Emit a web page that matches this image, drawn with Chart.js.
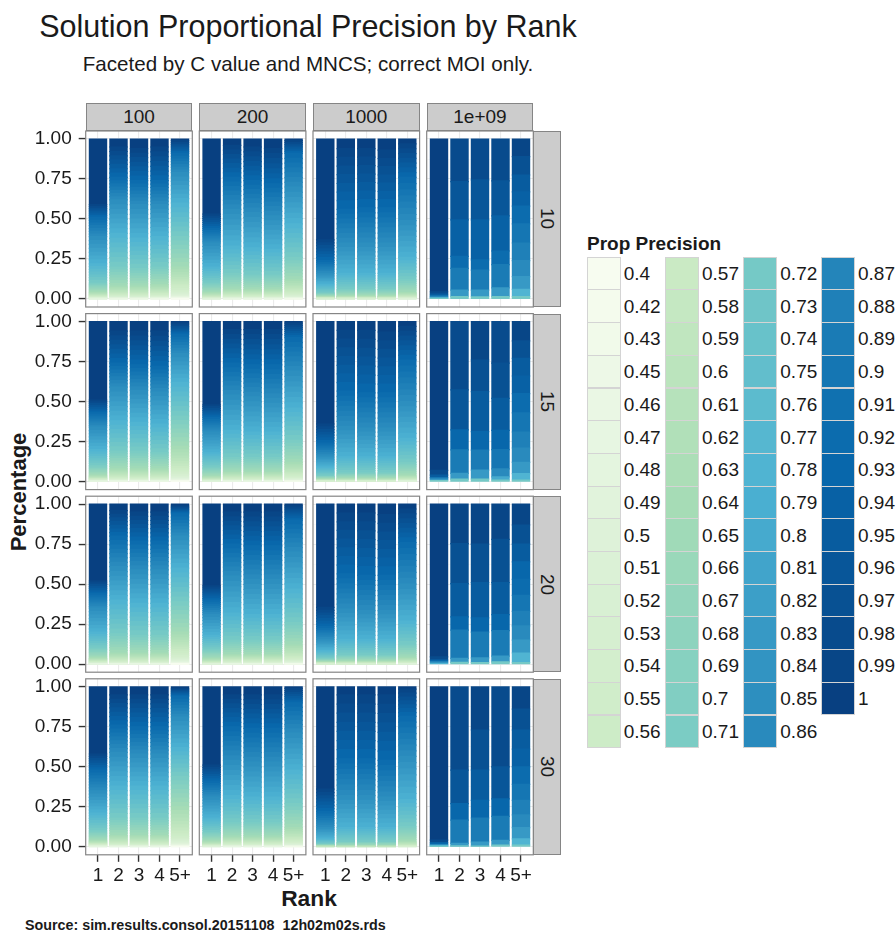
<!DOCTYPE html>
<html>
<head>
<meta charset="utf-8">
<title>Solution Proportional Precision by Rank</title>
<script src="https://cdn.jsdelivr.net/npm/chart.js@4.4.1/dist/chart.umd.min.js"></script>
<style>
  html, body { margin: 0; padding: 0; background: #ffffff; }
  body { position: relative; width: 896px; height: 933px; overflow: hidden;
         font-family: "Liberation Sans", Arial, sans-serif; color: #1a1a1a; }
  .txt { position: absolute; white-space: pre; line-height: 1; }
  canvas.panel { position: absolute; left: 0; top: 0; }
  .strip { position: absolute; box-sizing: border-box; background: #cccccc; border: 1px solid #858585;
           display: flex; align-items: center; justify-content: center; font-size: 19px; color: #1a1a1a; }
  .strip.side span { writing-mode: vertical-rl; }
  .key { position: absolute; box-sizing: border-box; border: 1px solid #d4d4d4; }
  .klab { position: absolute; font-size: 19px; line-height: 1; white-space: pre; color: #1a1a1a; }
</style>
</head>
<body>
<div class="txt" id="title" style="font-size:30.5px;">Solution Proportional Precision by Rank</div>
<div class="txt" id="subtitle" style="font-size:20.6px;">Faceted by C value and MNCS; correct MOI only.</div>
<div class="txt" id="ytitle" style="font-size:22px;font-weight:bold;">Percentage</div>
<div class="txt" id="xtitle" style="font-size:22.8px;font-weight:bold;">Rank</div>
<div class="txt" id="legtitle" style="font-size:19px;font-weight:bold;">Prop Precision</div>
<div class="txt" id="source" style="font-size:14.3px;font-weight:bold;">Source: sim.results.consol.20151108  12h02m02s.rds</div>
<script>
// ---- categories ----
const cValues = ['100', '200', '1000', '1e+09'];
const mncsValues = ['10', '15', '20', '30'];
const ranks = ['1', '2', '3', '4', '5+'];
const precisionLevels = [0.4, 0.42, 0.43, 0.45, 0.46, 0.47, 0.48, 0.49, 0.5, 0.51, 0.52, 0.53, 0.54, 0.55, 0.56,
  0.57, 0.58, 0.59, 0.6, 0.61, 0.62, 0.63, 0.64, 0.65, 0.66, 0.67, 0.68, 0.69, 0.7, 0.71,
  0.72, 0.73, 0.74, 0.75, 0.76, 0.77, 0.78, 0.79, 0.8, 0.81, 0.82, 0.83, 0.84, 0.85, 0.86,
  0.87, 0.88, 0.89, 0.9, 0.91, 0.92, 0.93, 0.94, 0.95, 0.96, 0.97, 0.98, 0.99, 1];
const yMajorTicks = [0, 0.25, 0.5, 0.75, 1];
const yMinorTicks = [0.125, 0.375, 0.625, 0.875];

// ---- share (%) of solutions at each precision level, one row per rank ----
const c100_m10 = [
  [0,0,0,0,0,0,0.1,0.1,0.1,0.1,0.2,0.2,0.2,0.2,0.3, 0.3,0.3,0.3,0.4,0.4,0.4,0.4,0.5, 0.7,0.8,0.8,0.8,0.8,0.8,0.8, 1.6,1.7,1.7,1.8,1.7,1.7,1.8, 2.4,2.4,2.4,2.5,2.4,2.4,2.5, 1.6,1.7,1.7,1.8,1.7,1.7,1.8, 1.1,1.1,1.2,1.1,1.2,1.1,1.2, 41],
  [0,0,0,0,0.1,0.1,0.1,0.1,0.2,0.2,0.3,0.3,0.3,0.4,0.4, 0.5,0.6,0.6,0.7,0.7,0.7,0.8,0.9, 1.6,1.7,1.7,1.8,1.7,1.7,1.8, 2.9,3.0,3.0,3.0,3.0,3.0,3.1, 2.9,3.0,3.0,3.0,3.0,3.0,3.1, 1.9,2.0,2.0,2.0,2.0,2.0,2.1, 2.7,2.7,2.7,2.7,2.7,2.7,2.8, 5],
  [0,0,0,0,0.1,0.1,0.1,0.1,0.2,0.2,0.3,0.3,0.3,0.4,0.4, 0.5,0.6,0.6,0.7,0.7,0.7,0.8,0.9, 1.5,1.6,1.6,1.6,1.5,1.6,1.6, 2.7,2.7,2.7,2.7,2.7,2.7,2.8, 2.9,3.0,3.0,3.0,3.0,3.0,3.1, 2.1,2.1,2.2,2.1,2.2,2.1,2.2, 2.8,2.9,2.9,2.8,2.9,2.8,2.9, 6],
  [0,0,0,0.1,0.1,0.1,0.1,0.2,0.2,0.3,0.3,0.3,0.4,0.4,0.5, 0.6,0.6,0.7,0.7,0.8,0.8,0.9,0.9, 1.5,1.6,1.6,1.6,1.5,1.6,1.6, 2.7,2.7,2.7,2.7,2.7,2.7,2.8, 2.8,2.9,2.9,2.8,2.9,2.8,2.9, 2.1,2.1,2.2,2.1,2.2,2.1,2.2, 2.9,3.0,3.0,3.0,3.0,3.0,3.1, 5],
  [0.1,0.1,0.1,0.2,0.2,0.3,0.3,0.4,0.5,0.6,0.7,0.8,1.0,1.2,1.5, 1.2,1.3,1.4,1.5,1.5,1.6,1.7,1.8, 2.7,2.7,2.7,2.7,2.7,2.7,2.8, 2.9,3.0,3.0,3.0,3.0,3.0,3.1, 2.7,2.7,2.7,2.7,2.7,2.7,2.8, 1.6,1.7,1.7,1.8,1.7,1.7,1.8, 1.1,1.1,1.2,1.1,1.2,1.1,1.2, 1]
];
const c100_m15 = [
  [0,0,0,0,0,0,0.1,0.1,0.1,0.1,0.2,0.2,0.2,0.2,0.3, 0.2,0.2,0.3,0.3,0.3,0.4,0.4,0.4, 0.8,0.8,0.9,0.8,0.9,0.9,0.9, 1.4,1.4,1.4,1.5,1.4,1.4,1.5, 1.9,2.0,2.0,2.0,2.0,2.0,2.1, 1.2,1.3,1.3,1.3,1.3,1.3,1.3, 1.1,1.1,1.2,1.1,1.2,1.1,1.2, 49],
  [0,0,0,0,0.1,0.1,0.1,0.1,0.2,0.2,0.3,0.3,0.3,0.4,0.4, 0.5,0.6,0.6,0.7,0.7,0.7,0.8,0.9, 1.5,1.6,1.6,1.6,1.5,1.6,1.6, 2.7,2.7,2.7,2.7,2.7,2.7,2.8, 2.9,3.0,3.0,3.0,3.0,3.0,3.1, 2.1,2.1,2.2,2.1,2.2,2.1,2.2, 2.8,2.9,2.9,2.8,2.9,2.8,2.9, 6],
  [0,0,0,0,0.1,0.1,0.1,0.1,0.2,0.2,0.3,0.3,0.3,0.4,0.4, 0.5,0.6,0.6,0.7,0.7,0.7,0.8,0.9, 1.5,1.6,1.6,1.6,1.5,1.6,1.6, 2.5,2.6,2.6,2.6,2.5,2.6,2.6, 2.8,2.9,2.9,2.8,2.9,2.8,2.9, 2.2,2.3,2.3,2.3,2.3,2.3,2.3, 2.9,3.0,3.0,3.0,3.0,3.0,3.1, 6],
  [0,0,0,0,0.1,0.1,0.1,0.1,0.2,0.2,0.3,0.3,0.3,0.4,0.4, 0.5,0.6,0.6,0.7,0.7,0.7,0.8,0.9, 1.4,1.4,1.4,1.5,1.4,1.4,1.5, 2.5,2.6,2.6,2.6,2.5,2.6,2.6, 2.8,2.9,2.9,2.8,2.9,2.8,2.9, 2.2,2.3,2.3,2.3,2.3,2.3,2.3, 3.1,3.1,3.2,3.1,3.2,3.1,3.2, 6],
  [0.1,0.1,0.1,0.2,0.2,0.3,0.3,0.4,0.5,0.6,0.7,0.8,1.0,1.2,1.5, 1.4,1.5,1.6,1.7,1.8,1.9,2.0,2.1, 2.7,2.7,2.7,2.7,2.7,2.7,2.8, 2.9,3.0,3.0,3.0,3.0,3.0,3.1, 2.5,2.6,2.6,2.6,2.5,2.6,2.6, 1.6,1.7,1.7,1.8,1.7,1.7,1.8, 0.9,1.0,1.0,1.0,1.0,1.0,1.1, 1]
];
const c100_m20 = [
  [0,0,0,0,0,0,0.1,0.1,0.1,0.1,0.2,0.2,0.2,0.2,0.3, 0.2,0.2,0.3,0.3,0.3,0.4,0.4,0.4, 0.8,0.8,0.9,0.8,0.9,0.9,0.9, 1.4,1.4,1.4,1.5,1.4,1.4,1.5, 2.1,2.1,2.2,2.1,2.2,2.1,2.2, 1.2,1.3,1.3,1.3,1.3,1.3,1.3, 1.1,1.1,1.2,1.1,1.2,1.1,1.2, 48],
  [0,0,0,0,0,0.1,0.1,0.1,0.1,0.2,0.2,0.2,0.3,0.3,0.4, 0.5,0.5,0.6,0.6,0.6,0.7,0.7,0.8, 1.6,1.7,1.7,1.8,1.7,1.7,1.8, 2.9,3.0,3.0,3.0,3.0,3.0,3.1, 2.9,3.0,3.0,3.0,3.0,3.0,3.1, 2.7,2.7,2.7,2.7,2.7,2.7,2.8, 2.2,2.3,2.3,2.3,2.3,2.3,2.3, 4],
  [0,0,0,0,0,0.1,0.1,0.1,0.1,0.2,0.2,0.2,0.3,0.3,0.4, 0.5,0.5,0.6,0.6,0.6,0.7,0.7,0.8, 1.5,1.6,1.6,1.6,1.5,1.6,1.6, 2.8,2.9,2.9,2.8,2.9,2.8,2.9, 2.9,3.0,3.0,3.0,3.0,3.0,3.1, 2.5,2.6,2.6,2.6,2.5,2.6,2.6, 2.5,2.6,2.6,2.6,2.5,2.6,2.6, 5],
  [0,0,0,0,0,0.1,0.1,0.1,0.1,0.2,0.2,0.2,0.3,0.3,0.4, 0.5,0.5,0.6,0.6,0.6,0.7,0.7,0.8, 1.5,1.6,1.6,1.6,1.5,1.6,1.6, 2.8,2.9,2.9,2.8,2.9,2.8,2.9, 2.9,3.0,3.0,3.0,3.0,3.0,3.1, 2.5,2.6,2.6,2.6,2.5,2.6,2.6, 2.5,2.6,2.6,2.6,2.5,2.6,2.6, 5],
  [0.1,0.1,0.1,0.2,0.2,0.3,0.3,0.4,0.5,0.6,0.7,0.8,1.0,1.2,1.5, 1.2,1.3,1.4,1.5,1.5,1.6,1.7,1.8, 2.7,2.7,2.7,2.7,2.7,2.7,2.8, 2.9,3.0,3.0,3.0,3.0,3.0,3.1, 2.8,2.9,2.9,2.8,2.9,2.8,2.9, 1.9,2.0,2.0,2.0,2.0,2.0,2.1, 0.7,0.7,0.7,0.7,0.7,0.7,0.8, 1]
];
const c100_m30 = [
  [0,0,0,0,0,0,0.1,0.1,0.1,0.1,0.2,0.2,0.2,0.2,0.3, 0.2,0.2,0.3,0.3,0.3,0.4,0.4,0.4, 0.8,0.8,0.9,0.8,0.9,0.9,0.9, 1.5,1.6,1.6,1.6,1.5,1.6,1.6, 1.9,2.0,2.0,2.0,2.0,2.0,2.1, 1.8,1.9,1.8,1.9,1.9,1.8,1.9, 1.4,1.4,1.4,1.5,1.4,1.4,1.5, 42],
  [0,0,0,0,0,0.1,0.1,0.1,0.1,0.2,0.2,0.2,0.3,0.3,0.4, 0.5,0.5,0.6,0.6,0.6,0.7,0.7,0.8, 1.5,1.6,1.6,1.6,1.5,1.6,1.6, 2.8,2.9,2.9,2.8,2.9,2.8,2.9, 2.9,3.0,3.0,3.0,3.0,3.0,3.1, 2.4,2.4,2.4,2.5,2.4,2.4,2.5, 2.7,2.7,2.7,2.7,2.7,2.7,2.8, 5],
  [0,0,0,0,0,0.1,0.1,0.1,0.1,0.2,0.2,0.2,0.3,0.3,0.4, 0.5,0.5,0.6,0.6,0.6,0.7,0.7,0.8, 1.5,1.6,1.6,1.6,1.5,1.6,1.6, 2.8,2.9,2.9,2.8,2.9,2.8,2.9, 2.8,2.9,2.9,2.8,2.9,2.8,2.9, 2.4,2.4,2.4,2.5,2.4,2.4,2.5, 2.8,2.9,2.9,2.8,2.9,2.8,2.9, 5],
  [0,0,0,0,0,0.1,0.1,0.1,0.1,0.2,0.2,0.2,0.3,0.3,0.4, 0.5,0.5,0.6,0.6,0.6,0.7,0.7,0.8, 1.5,1.6,1.6,1.6,1.5,1.6,1.6, 2.8,2.9,2.9,2.8,2.9,2.8,2.9, 2.8,2.9,2.9,2.8,2.9,2.8,2.9, 2.4,2.4,2.4,2.5,2.4,2.4,2.5, 2.8,2.9,2.9,2.8,2.9,2.8,2.9, 5],
  [0.1,0.1,0.1,0.2,0.2,0.3,0.3,0.4,0.5,0.6,0.7,0.8,1.0,1.2,1.5, 1.8,1.9,2.0,2.1,2.2,2.3,2.3,2.4, 2.7,2.7,2.7,2.7,2.7,2.7,2.8, 2.5,2.6,2.6,2.6,2.5,2.6,2.6, 2.7,2.7,2.7,2.7,2.7,2.7,2.8, 1.8,1.9,1.8,1.9,1.9,1.8,1.9, 0.7,0.7,0.7,0.7,0.7,0.7,0.8, 1]
];
const c200_m10 = [
  [0,0,0,0,0,0,0,0,0.1,0.1,0.1,0.1,0.2,0.2,0.2, 0.3,0.3,0.3,0.4,0.4,0.4,0.4,0.5, 0.8,0.8,0.9,0.8,0.9,0.9,0.9, 1.4,1.4,1.4,1.5,1.4,1.4,1.5, 2.1,2.1,2.2,2.1,2.2,2.1,2.2, 1.2,1.3,1.3,1.3,1.3,1.3,1.3, 1.2,1.3,1.3,1.3,1.3,1.3,1.3, 47],
  [0,0,0,0,0,0.1,0.1,0.1,0.1,0.2,0.2,0.2,0.3,0.3,0.4, 0.4,0.4,0.5,0.5,0.5,0.5,0.6,0.6, 1.4,1.4,1.4,1.5,1.4,1.4,1.5, 2.4,2.4,2.4,2.5,2.4,2.4,2.5, 3.2,3.3,3.3,3.3,3.3,3.3,3.3, 2.8,2.9,2.9,2.8,2.9,2.8,2.9, 2.8,2.9,2.9,2.8,2.9,2.8,2.9, 4],
  [0,0,0,0,0,0.1,0.1,0.1,0.1,0.2,0.2,0.2,0.3,0.3,0.4, 0.4,0.4,0.5,0.5,0.5,0.5,0.6,0.6, 1.2,1.3,1.3,1.3,1.3,1.3,1.3, 2.4,2.4,2.4,2.5,2.4,2.4,2.5, 3.1,3.1,3.2,3.1,3.2,3.1,3.2, 2.8,2.9,2.9,2.8,2.9,2.8,2.9, 2.9,3.0,3.0,3.0,3.0,3.0,3.1, 5],
  [0,0,0,0,0,0.1,0.1,0.1,0.1,0.2,0.2,0.2,0.3,0.3,0.4, 0.4,0.4,0.5,0.5,0.5,0.5,0.6,0.6, 1.2,1.3,1.3,1.3,1.3,1.3,1.3, 2.2,2.3,2.3,2.3,2.3,2.3,2.3, 2.9,3.0,3.0,3.0,3.0,3.0,3.1, 2.8,2.9,2.9,2.8,2.9,2.8,2.9, 3.1,3.1,3.2,3.1,3.2,3.1,3.2, 6],
  [0,0,0.1,0.1,0.1,0.1,0.2,0.2,0.3,0.3,0.4,0.4,0.5,0.6,0.7, 0.8,0.9,0.9,1.0,1.0,1.1,1.1,1.2, 1.9,2.0,2.0,2.0,2.0,2.0,2.1, 2.9,3.0,3.0,3.0,3.0,3.0,3.1, 3.2,3.3,3.3,3.3,3.3,3.3,3.3, 2.9,3.0,3.0,3.0,3.0,3.0,3.1, 1.1,1.1,1.2,1.1,1.2,1.1,1.2, 1]
];
const c200_m15 = [
  [0,0,0,0,0,0,0,0,0.1,0.1,0.1,0.1,0.2,0.2,0.2, 0.2,0.2,0.3,0.3,0.3,0.4,0.4,0.4, 0.7,0.8,0.8,0.8,0.8,0.8,0.8, 1.2,1.3,1.3,1.3,1.3,1.3,1.3, 1.8,1.9,1.8,1.9,1.9,1.8,1.9, 1.2,1.3,1.3,1.3,1.3,1.3,1.3, 1.1,1.1,1.2,1.1,1.2,1.1,1.2, 52],
  [0,0,0,0,0,0.1,0.1,0.1,0.1,0.2,0.2,0.2,0.3,0.3,0.4, 0.4,0.4,0.5,0.5,0.5,0.5,0.6,0.6, 1.2,1.3,1.3,1.3,1.3,1.3,1.3, 2.4,2.4,2.4,2.5,2.4,2.4,2.5, 3.1,3.1,3.2,3.1,3.2,3.1,3.2, 2.8,2.9,2.9,2.8,2.9,2.8,2.9, 2.9,3.0,3.0,3.0,3.0,3.0,3.1, 5],
  [0,0,0,0,0,0.1,0.1,0.1,0.1,0.2,0.2,0.2,0.3,0.3,0.4, 0.4,0.4,0.5,0.5,0.5,0.5,0.6,0.6, 1.2,1.3,1.3,1.3,1.3,1.3,1.3, 2.2,2.3,2.3,2.3,2.3,2.3,2.3, 3.1,3.1,3.2,3.1,3.2,3.1,3.2, 2.8,2.9,2.9,2.8,2.9,2.8,2.9, 3.1,3.1,3.2,3.1,3.2,3.1,3.2, 5],
  [0,0,0,0,0,0.1,0.1,0.1,0.1,0.2,0.2,0.2,0.3,0.3,0.4, 0.4,0.4,0.5,0.5,0.5,0.5,0.6,0.6, 1.2,1.3,1.3,1.3,1.3,1.3,1.3, 2.2,2.3,2.3,2.3,2.3,2.3,2.3, 2.9,3.0,3.0,3.0,3.0,3.0,3.1, 2.9,3.0,3.0,3.0,3.0,3.0,3.1, 3.1,3.1,3.2,3.1,3.2,3.1,3.2, 5],
  [0,0,0.1,0.1,0.1,0.1,0.2,0.2,0.3,0.3,0.4,0.4,0.5,0.6,0.7, 0.8,0.9,0.9,1.0,1.0,1.1,1.1,1.2, 1.9,2.0,2.0,2.0,2.0,2.0,2.1, 2.8,2.9,2.9,2.8,2.9,2.8,2.9, 3.2,3.3,3.3,3.3,3.3,3.3,3.3, 2.9,3.0,3.0,3.0,3.0,3.0,3.1, 1.2,1.3,1.3,1.3,1.3,1.3,1.3, 1]
];
const c200_m20 = [
  [0,0,0,0,0,0,0,0,0.1,0.1,0.1,0.1,0.2,0.2,0.2, 0.2,0.2,0.3,0.3,0.3,0.4,0.4,0.4, 0.7,0.8,0.8,0.8,0.8,0.8,0.8, 1.2,1.3,1.3,1.3,1.3,1.3,1.3, 1.8,1.9,1.8,1.9,1.9,1.8,1.9, 1.2,1.3,1.3,1.3,1.3,1.3,1.3, 1.2,1.3,1.3,1.3,1.3,1.3,1.3, 51],
  [0,0,0,0,0,0.1,0.1,0.1,0.1,0.2,0.2,0.2,0.3,0.3,0.4, 0.4,0.4,0.5,0.5,0.5,0.5,0.6,0.6, 1.2,1.3,1.3,1.3,1.3,1.3,1.3, 2.4,2.4,2.4,2.5,2.4,2.4,2.5, 3.2,3.3,3.3,3.3,3.3,3.3,3.3, 2.8,2.9,2.9,2.8,2.9,2.8,2.9, 2.8,2.9,2.9,2.8,2.9,2.8,2.9, 5],
  [0,0,0,0,0,0.1,0.1,0.1,0.1,0.2,0.2,0.2,0.3,0.3,0.4, 0.4,0.4,0.5,0.5,0.5,0.5,0.6,0.6, 1.2,1.3,1.3,1.3,1.3,1.3,1.3, 2.2,2.3,2.3,2.3,2.3,2.3,2.3, 3.1,3.1,3.2,3.1,3.2,3.1,3.2, 2.9,3.0,3.0,3.0,3.0,3.0,3.1, 2.9,3.0,3.0,3.0,3.0,3.0,3.1, 5],
  [0,0,0,0,0,0.1,0.1,0.1,0.1,0.2,0.2,0.2,0.3,0.3,0.4, 0.4,0.4,0.5,0.5,0.5,0.5,0.6,0.6, 1.2,1.3,1.3,1.3,1.3,1.3,1.3, 2.2,2.3,2.3,2.3,2.3,2.3,2.3, 3.1,3.1,3.2,3.1,3.2,3.1,3.2, 2.9,3.0,3.0,3.0,3.0,3.0,3.1, 2.9,3.0,3.0,3.0,3.0,3.0,3.1, 5],
  [0,0,0.1,0.1,0.1,0.1,0.2,0.2,0.3,0.3,0.4,0.4,0.5,0.6,0.7, 0.8,0.9,0.9,1.0,1.0,1.1,1.1,1.2, 1.9,2.0,2.0,2.0,2.0,2.0,2.1, 2.9,3.0,3.0,3.0,3.0,3.0,3.1, 3.2,3.3,3.3,3.3,3.3,3.3,3.3, 2.8,2.9,2.9,2.8,2.9,2.8,2.9, 1.2,1.3,1.3,1.3,1.3,1.3,1.3, 1]
];
const c200_m30 = [
  [0,0,0,0,0,0,0,0,0.1,0.1,0.1,0.1,0.2,0.2,0.2, 0.2,0.2,0.3,0.3,0.3,0.4,0.4,0.4, 0.7,0.8,0.8,0.8,0.8,0.8,0.8, 1.2,1.3,1.3,1.3,1.3,1.3,1.3, 1.8,1.9,1.8,1.9,1.9,1.8,1.9, 1.4,1.4,1.4,1.5,1.4,1.4,1.5, 1.4,1.4,1.4,1.5,1.4,1.4,1.5, 49],
  [0,0,0,0,0,0.1,0.1,0.1,0.1,0.2,0.2,0.2,0.3,0.3,0.4, 0.4,0.4,0.5,0.5,0.5,0.5,0.6,0.6, 1.2,1.3,1.3,1.3,1.3,1.3,1.3, 2.4,2.4,2.4,2.5,2.4,2.4,2.5, 3.1,3.1,3.2,3.1,3.2,3.1,3.2, 2.9,3.0,3.0,3.0,3.0,3.0,3.1, 2.8,2.9,2.9,2.8,2.9,2.8,2.9, 5],
  [0,0,0,0,0,0.1,0.1,0.1,0.1,0.2,0.2,0.2,0.3,0.3,0.4, 0.4,0.4,0.5,0.5,0.5,0.5,0.6,0.6, 1.2,1.3,1.3,1.3,1.3,1.3,1.3, 2.2,2.3,2.3,2.3,2.3,2.3,2.3, 3.1,3.1,3.2,3.1,3.2,3.1,3.2, 2.9,3.0,3.0,3.0,3.0,3.0,3.1, 2.9,3.0,3.0,3.0,3.0,3.0,3.1, 5],
  [0,0,0,0,0,0.1,0.1,0.1,0.1,0.2,0.2,0.2,0.3,0.3,0.4, 0.4,0.4,0.5,0.5,0.5,0.5,0.6,0.6, 1.2,1.3,1.3,1.3,1.3,1.3,1.3, 2.2,2.3,2.3,2.3,2.3,2.3,2.3, 3.1,3.1,3.2,3.1,3.2,3.1,3.2, 2.9,3.0,3.0,3.0,3.0,3.0,3.1, 2.9,3.0,3.0,3.0,3.0,3.0,3.1, 5],
  [0,0,0.1,0.1,0.1,0.1,0.2,0.2,0.3,0.3,0.4,0.4,0.5,0.6,0.7, 0.8,0.9,0.9,1.0,1.0,1.1,1.1,1.2, 2.1,2.1,2.2,2.1,2.2,2.1,2.2, 2.9,3.0,3.0,3.0,3.0,3.0,3.1, 3.2,3.3,3.3,3.3,3.3,3.3,3.3, 2.7,2.7,2.7,2.7,2.7,2.7,2.8, 1.2,1.3,1.3,1.3,1.3,1.3,1.3, 1]
];
const c1000_m10 = [
  [0,0,0,0,0,0,0,0,0,0,0,0.1,0.1,0.1,0.2, 0.1,0.1,0.1,0.1,0.1,0.2,0.1,0.2, 0.3,0.2,0.3,0.3,0.3,0.3,0.3, 0.7,0.8,0.8,0.8,0.8,0.8,0.8, 0.9,1.0,1.0,1.0,1.0,1.0,1.1, 1.1,1.1,1.2,1.1,1.2,1.1,1.2, 1.8,1.9,1.8,1.9,1.9,1.8,1.9, 63],
  [0,0,0,0,0,0,0,0,0,0,0,0.1,0.1,0.1,0.2, 0.1,0.1,0.2,0.2,0.2,0.2,0.2,0.3, 0.5,0.5,0.6,0.6,0.6,0.6,0.6, 1.4,1.4,1.4,1.5,1.4,1.4,1.5, 2.7,2.7,2.7,2.7,2.7,2.7,2.8, 2.9,3.0,3.0,3.0,3.0,3.0,3.1, 5.4,5.4,5.4,5.5,5.4,5.4,5.5, 6],
  [0,0,0,0,0,0,0,0,0,0,0,0.1,0.1,0.1,0.2, 0.1,0.1,0.2,0.2,0.2,0.2,0.2,0.3, 0.5,0.5,0.6,0.6,0.6,0.6,0.6, 1.4,1.4,1.4,1.5,1.4,1.4,1.5, 2.7,2.7,2.7,2.7,2.7,2.7,2.8, 3.1,3.1,3.2,3.1,3.2,3.1,3.2, 5.2,5.3,5.3,5.3,5.3,5.3,5.3, 6],
  [0,0,0,0,0,0,0,0,0,0,0,0.1,0.1,0.1,0.2, 0.1,0.1,0.2,0.2,0.2,0.2,0.2,0.3, 0.5,0.5,0.6,0.6,0.6,0.6,0.6, 1.4,1.4,1.4,1.5,1.4,1.4,1.5, 2.7,2.7,2.7,2.7,2.7,2.7,2.8, 3.1,3.1,3.2,3.1,3.2,3.1,3.2, 5.1,5.1,5.2,5.1,5.2,5.1,5.2, 7],
  [0,0,0,0,0,0,0,0,0.1,0.1,0.1,0.1,0.2,0.2,0.2, 0.3,0.3,0.3,0.4,0.4,0.4,0.4,0.5, 1.1,1.1,1.2,1.1,1.2,1.1,1.2, 1.9,2.0,2.0,2.0,2.0,2.0,2.1, 3.2,3.3,3.3,3.3,3.3,3.3,3.3, 3.8,3.8,3.9,3.9,3.8,3.9,3.9, 2.9,3.0,3.0,3.0,3.0,3.0,3.1, 3]
];
const c1000_m15 = [
  [0,0,0,0,0,0,0,0,0,0,0,0.1,0.1,0.1,0.2, 0.1,0.1,0.1,0.1,0.1,0.2,0.1,0.2, 0.3,0.2,0.3,0.3,0.3,0.3,0.3, 0.7,0.8,0.8,0.8,0.8,0.8,0.8, 0.9,1.0,1.0,1.0,1.0,1.0,1.1, 1.1,1.1,1.2,1.1,1.2,1.1,1.2, 1.6,1.7,1.7,1.8,1.7,1.7,1.8, 64],
  [0,0,0,0,0,0,0,0,0,0,0,0.1,0.1,0.1,0.2, 0.1,0.1,0.2,0.2,0.2,0.2,0.2,0.3, 0.4,0.5,0.5,0.5,0.5,0.5,0.6, 1.4,1.4,1.4,1.5,1.4,1.4,1.5, 2.7,2.7,2.7,2.7,2.7,2.7,2.8, 3.1,3.1,3.2,3.1,3.2,3.1,3.2, 5.4,5.4,5.4,5.5,5.4,5.4,5.5, 5.5],
  [0,0,0,0,0,0,0,0,0,0,0,0.1,0.1,0.1,0.2, 0.1,0.1,0.2,0.2,0.2,0.2,0.2,0.3, 0.4,0.5,0.5,0.5,0.5,0.5,0.6, 1.4,1.4,1.4,1.5,1.4,1.4,1.5, 2.5,2.6,2.6,2.6,2.5,2.6,2.6, 3.1,3.1,3.2,3.1,3.2,3.1,3.2, 5.5,5.6,5.6,5.6,5.5,5.6,5.6, 5.5],
  [0,0,0,0,0,0,0,0,0,0,0,0.1,0.1,0.1,0.2, 0.1,0.1,0.2,0.2,0.2,0.2,0.2,0.3, 0.4,0.5,0.5,0.5,0.5,0.5,0.6, 1.4,1.4,1.4,1.5,1.4,1.4,1.5, 2.5,2.6,2.6,2.6,2.5,2.6,2.6, 3.1,3.1,3.2,3.1,3.2,3.1,3.2, 5.4,5.4,5.4,5.5,5.4,5.4,5.5, 6.5],
  [0,0,0,0,0,0,0,0,0.1,0.1,0.1,0.1,0.2,0.2,0.2, 0.3,0.3,0.3,0.4,0.4,0.4,0.4,0.5, 1.1,1.1,1.2,1.1,1.2,1.1,1.2, 2.1,2.1,2.2,2.1,2.2,2.1,2.2, 3.2,3.3,3.3,3.3,3.3,3.3,3.3, 3.7,3.7,3.7,3.7,3.7,3.7,3.8, 2.9,3.0,3.0,3.0,3.0,3.0,3.1, 3]
];
const c1000_m20 = [
  [0,0,0,0,0,0,0,0,0,0,0,0.1,0.1,0.1,0.2, 0.1,0.1,0.1,0.1,0.1,0.2,0.1,0.2, 0.3,0.2,0.3,0.3,0.3,0.3,0.3, 0.7,0.7,0.7,0.7,0.7,0.7,0.8, 0.9,1.0,1.0,1.0,1.0,1.0,1.1, 1.1,1.1,1.2,1.1,1.2,1.1,1.2, 1.6,1.7,1.7,1.8,1.7,1.7,1.8, 64.5],
  [0,0,0,0,0,0,0,0,0,0,0,0.1,0.1,0.1,0.2, 0.1,0.1,0.2,0.2,0.2,0.2,0.2,0.3, 0.4,0.5,0.5,0.5,0.5,0.5,0.6, 1.4,1.4,1.4,1.5,1.4,1.4,1.5, 2.7,2.7,2.7,2.7,2.7,2.7,2.8, 3.1,3.1,3.2,3.1,3.2,3.1,3.2, 5.4,5.4,5.4,5.5,5.4,5.4,5.5, 5.5],
  [0,0,0,0,0,0,0,0,0,0,0,0.1,0.1,0.1,0.2, 0.1,0.1,0.2,0.2,0.2,0.2,0.2,0.3, 0.4,0.5,0.5,0.5,0.5,0.5,0.6, 1.4,1.4,1.4,1.5,1.4,1.4,1.5, 2.5,2.6,2.6,2.6,2.5,2.6,2.6, 3.1,3.1,3.2,3.1,3.2,3.1,3.2, 5.5,5.6,5.6,5.6,5.5,5.6,5.6, 5.5],
  [0,0,0,0,0,0,0,0,0,0,0,0.1,0.1,0.1,0.2, 0.1,0.1,0.2,0.2,0.2,0.2,0.2,0.3, 0.4,0.5,0.5,0.5,0.5,0.5,0.6, 1.4,1.4,1.4,1.5,1.4,1.4,1.5, 2.5,2.6,2.6,2.6,2.5,2.6,2.6, 3.1,3.1,3.2,3.1,3.2,3.1,3.2, 5.4,5.4,5.4,5.5,5.4,5.4,5.5, 6.5],
  [0,0,0,0,0,0,0,0,0.1,0.1,0.1,0.1,0.2,0.2,0.2, 0.3,0.3,0.3,0.4,0.4,0.4,0.4,0.5, 1.1,1.1,1.2,1.1,1.2,1.1,1.2, 2.1,2.1,2.2,2.1,2.2,2.1,2.2, 3.2,3.3,3.3,3.3,3.3,3.3,3.3, 3.7,3.7,3.7,3.7,3.7,3.7,3.8, 2.9,3.0,3.0,3.0,3.0,3.0,3.1, 3]
];
const c1000_m30 = [
  [0,0,0,0,0,0,0,0,0,0,0,0,0,0,0, 0,0,0.1,0,0.1,0.1,0.1,0.1, 0.1,0.1,0.2,0.1,0.2,0.1,0.2, 0.4,0.5,0.5,0.5,0.5,0.5,0.6, 0.9,1.0,1.0,1.0,1.0,1.0,1.1, 1.4,1.4,1.4,1.5,1.4,1.4,1.5, 1.9,2.0,2.0,2.0,2.0,2.0,2.1, 64],
  [0,0,0,0,0,0,0,0,0,0,0,0,0,0,0, 0,0,0.1,0,0.1,0.1,0.1,0.1, 0.3,0.3,0.4,0.3,0.4,0.4,0.4, 1.2,1.3,1.3,1.3,1.3,1.3,1.3, 2.8,2.9,2.9,2.8,2.9,2.8,2.9, 3.2,3.3,3.3,3.3,3.3,3.3,3.3, 5.7,5.7,5.7,5.7,5.7,5.7,5.8, 5],
  [0,0,0,0,0,0,0,0,0,0,0,0,0,0,0, 0,0,0.1,0,0.1,0.1,0.1,0.1, 0.3,0.3,0.4,0.3,0.4,0.4,0.4, 1.2,1.3,1.3,1.3,1.3,1.3,1.3, 2.8,2.9,2.9,2.8,2.9,2.8,2.9, 3.2,3.3,3.3,3.3,3.3,3.3,3.3, 5.7,5.7,5.7,5.7,5.7,5.7,5.8, 5],
  [0,0,0,0,0,0,0,0,0,0,0,0,0,0,0, 0,0,0.1,0,0.1,0.1,0.1,0.1, 0.3,0.3,0.4,0.3,0.4,0.4,0.4, 1.2,1.3,1.3,1.3,1.3,1.3,1.3, 2.7,2.7,2.7,2.7,2.7,2.7,2.8, 3.2,3.3,3.3,3.3,3.3,3.3,3.3, 5.8,5.9,5.8,5.9,5.9,5.8,5.9, 5],
  [0,0,0,0,0,0,0,0,0,0,0,0.1,0.1,0.1,0.2, 0.3,0.3,0.3,0.4,0.4,0.4,0.4,0.5, 1.2,1.3,1.3,1.3,1.3,1.3,1.3, 2.4,2.4,2.4,2.5,2.4,2.4,2.5, 3.8,3.8,3.9,3.9,3.8,3.9,3.9, 3.5,3.6,3.6,3.5,3.6,3.6,3.6, 2.4,2.4,2.4,2.5,2.4,2.4,2.5, 1.5]
];
const c1e9_m10 = [
  [0,0,0,0,0,0,0,0,0,0,0,0,0,0,0, 0,0,0,0,0,0,0,0, 0,0,0,0,0,0,0, 0.3,0,0,0,0,0,0, 0,0.5,0,0,0,0,0, 0.6,0,0,0,0.6,0,0, 0,0,1.0,0,0,1.5,0, 95.5],
  [0,0,0,0,0,0,0,0,0,0,0,0,0,0,0, 0,0,0,0,0,0,0,0, 0,0,0,0,0,0,0, 1.5,0,0,0,0,0,0, 0,0,0,0,4.1,0,0, 0,0,0,13.5,0,0,7.5, 0,22.9,0,23.9,0,26.6,0, 0],
  [0,0,0,0,0,0,0,0,0,0,0,0,0,0,0, 0,0,0,0,0,0,0,0, 0,0,0,0,0,0,0, 1.4,0,0,0,0,0,0, 0,0,0,0,4.2,0,0, 0,0,0,12.5,0,0,6.3, 0,25,0,25,0,25.6,0, 0],
  [0,0,0,0,0,0,0,0,0,0,0,0,0,0,0, 0,0,0,0,0,0,0,0, 0,0,0,0,0,0,0, 1.5,0,0,0,0,0,0, 0,0,0,0,5.5,0,0, 0,0,0,14.5,0,0,8.5, 0,21.9,0,21.9,0,26.2,0, 0],
  [0,0,0,0,0,0,0,0,0,0,0,0,0,0,0, 0,0,0,0,0,0,0,0, 0,0,0,0,0,0,0, 1.5,0,0,0,0,0,4.5, 0,0,0,0,8,0,0, 10,0,11,0,12,0,11, 0,9,10.5,0,11.5,0,11, 0]
];
const c1e9_m15 = [
  [0,0,0,0,0,0,0,0,0,0,0,0,0,0,0, 0,0,0,0,0,0,0,0, 0,0,0,0,0,0,0, 0.7,0,0,0,0,0,0, 0,0,0,0,0.8,0,0, 0,0,0,0,1.0,0,0, 0,0,1.5,0,0,3.0,0, 93],
  [0,0,0,0,0,0,0,0,0,0,0,0,0,0,0, 0,0,0,0,0,0,0,0, 0,0,0,0,0,0,0, 1.5,0,0,0,0,0,0, 0,0,0,0,3.7,0,0, 0,0,0,14.6,0,0,0, 12.5,0,0,25,0,42.7,0, 0],
  [0,0,0,0,0,0,0,0,0,0,0,0,0,0,0, 0,0,0,0,0,0,0,0, 0,0,0,0,0,0,0, 1.5,0,0,0,0,0,0, 0,0,0,0,5.7,0,0, 0,0,0,12.5,0,0,0, 11.5,0,25,0,19.8,0,24, 0],
  [0,0,0,0,0,0,0,0,0,0,0,0,0,0,0, 0,0,0,0,0,0,0,0, 0,0,0,0,0,0,0, 1,0,0,0,0,0,0, 0,2,0,0,0,0,0, 5,0,0,0,12,0,0, 12,0,20,0,22,26,0, 0],
  [0,0,0,0,0,0,0,0,0,0,0,0,0,0,0, 0,0,0,0,0,0,0,0, 0,0,0,0,0,0,0, 1,0,0,0,0,0,4, 0,0,0,0,7,0,0, 9,0,10,0,12,0,12, 0,11,11,0,11,0,12, 0]
];
const c1e9_m20 = [
  [0,0,0,0,0,0,0,0,0,0,0,0,0,0,0, 0,0,0,0,0,0,0,0, 0,0,0,0,0,0,0, 0,0,0,0,0,0,0.6, 0,0,0,0,0,0,0, 0.8,0,0,0,0,0,0, 1.2,0,0,0,0,2.0,0, 95.4],
  [0,0,0,0,0,0,0,0,0,0,0,0,0,0,0, 0,0,0,0,0,0,0,0, 0,0,0,0,0,0,0, 1.1,0,0,0,0,0,0, 0,0,0,0,2.5,0,0, 0,0,0,17.7,0,0,0, 8.3,0,20.8,0,25,0,24.6, 0],
  [0,0,0,0,0,0,0,0,0,0,0,0,0,0,0, 0,0,0,0,0,0,0,0, 0,0,0,0,0,0,0, 1,0,0,0,0,0,0, 0,0,0,0,3,0,0, 0,0,0,16,0,0,0, 9,0,22,0,24,0,25, 0],
  [0,0,0,0,0,0,0,0,0,0,0,0,0,0,0, 0,0,0,0,0,0,0,0, 0,0,0,0,0,0,0, 1.5,0,0,0,0,0,0, 0,0,0,0,3.5,0,0, 0,0,0,16,0,0,0, 10,0,20,0,27,0,22, 0],
  [0,0,0,0,0,0,0,0,0,0,0,0,0,0,0, 0,0,0,0,0,0,0,0, 0,0,0,0,0,0,0, 1,0,0,0,0,0,6, 0,0,0,0,8,0,0, 9,0,9,0,10,0,10, 11,0,11,0,12,0,13, 0]
];
const c1e9_m30 = [
  [0,0,0,0,0,0,0,0,0,0,0,0,0,0,0, 0,0,0,0,0,0,0,0, 0,0,0,0,0,0,0, 0.2,0,0,0,0,0,0.5, 0,0,0,0,0,0,0, 0.7,0,0,0,0,0,0, 1.0,0,0,0,0,1.8,0, 95.8],
  [0,0,0,0,0,0,0,0,0,0,0,0,0,0,0, 0,0,0,0,0,0,0,0, 0,0,0,0,0,0,0, 0.6,0,0,0,0,0,0, 0,0,0,0,1.5,0,0, 0,0,0,14.6,0,0,0, 10.3,0,0,20.9,0,52.1,0, 0],
  [0,0,0,0,0,0,0,0,0,0,0,0,0,0,0, 0,0,0,0,0,0,0,0, 0,0,0,0,0,0,0, 0.5,0,0,0,0,0,0, 0,0,0,0,2.5,0,0, 0,0,0,15,0,0,0, 11,0,19,0,25,0,27, 0],
  [0,0,0,0,0,0,0,0,0,0,0,0,0,0,0, 0,0,0,0,0,0,0,0, 0,0,0,0,0,0,0, 1,0,0,0,0,0,0, 0,0,0,0,3,0,0, 0,0,0,15,0,0,0, 11,0,0,20,0,50,0, 0],
  [0,0,0,0,0,0,0,0,0,0,0,0,0,0,0, 0,0,0,0,0,0,0,0, 0,0,0,0,0,0,0, 1,0,0,0,0,0,4, 0,0,0,0,7,0,0, 8,0,9,0,10,0,11, 0,11,12,0,13,0,14, 0]
];

// facet grid: rows follow MNCS, columns follow C
const panelData = [
  [c100_m10, c200_m10, c1000_m10, c1e9_m10],
  [c100_m15, c200_m15, c1000_m15, c1e9_m15],
  [c100_m20, c200_m20, c1000_m20, c1e9_m20],
  [c100_m30, c200_m30, c1000_m30, c1e9_m30]
];

// ---- layout ----
const PAGE_W = 896, PAGE_H = 933;
const PANEL_LEFT = [85.7, 199.3, 313.0, 426.7];
const PANEL_TOP = [131.0, 313.6, 496.2, 678.8];
const PANEL_W = 106.6, PANEL_H = 176;
const Y_AXIS_W = 85.7;
const X_AXIS_H = 40;
const STRIP_TOP = 103.3, STRIP_H = 27.4, STRIP_W = 27.3;
const FONT = 'Liberation Sans';
const TEXT_COLOR = '#1a1a1a';

// GnBu ramp spread over all precision levels
const GNBU = ['#f7fcf0', '#e0f3db', '#ccebc5', '#a8ddb5', '#7bccc4', '#4eb3d3', '#2b8cbe', '#0868ac', '#084081'];
function hexToRgb(h) { return [1, 3, 5].map(i => parseInt(h.slice(i, i + 2), 16)); }
function rampColor(t) {
  const pos = t * (GNBU.length - 1);
  const i = Math.min(Math.floor(pos), GNBU.length - 2);
  const f = pos - i;
  const a = hexToRgb(GNBU[i]), b = hexToRgb(GNBU[i + 1]);
  const c = a.map((v, k) => Math.round(v + (b[k] - v) * f));
  return 'rgb(' + c.join(',') + ')';
}
const levelColors = precisionLevels.map((_, i) => rampColor(i / (precisionLevels.length - 1)));

// ---- page text placement ----
function place(id, x, y, anchor) {
  const el = document.getElementById(id);
  el.style.left = x + 'px';
  el.style.top = y + 'px';
  el.style.transform = 'translate(' + (anchor === 'left' ? '0' : '-50%') + ',-50%)';
}
place('title', 308, 26, 'center');
place('subtitle', 308, 63.5, 'center');
place('xtitle', 309, 897.5, 'center');
place('source', 25, 925, 'left');
place('legtitle', 587, 243, 'left');
{
  const el = document.getElementById('ytitle');
  el.style.left = '19px';
  el.style.top = '492px';
  el.style.transform = 'translate(-50%,-50%) rotate(-90deg)';
}

// ---- facet strips ----
cValues.forEach((lab, c) => {
  const d = document.createElement('div');
  d.className = 'strip';
  d.style.left = PANEL_LEFT[c] + 'px';
  d.style.top = STRIP_TOP + 'px';
  d.style.width = PANEL_W + 'px';
  d.style.height = STRIP_H + 'px';
  d.textContent = lab;
  document.body.appendChild(d);
});
mncsValues.forEach((lab, r) => {
  const d = document.createElement('div');
  d.className = 'strip side';
  d.style.left = (PANEL_LEFT[3] + PANEL_W) + 'px';
  d.style.top = PANEL_TOP[r] + 'px';
  d.style.width = STRIP_W + 'px';
  d.style.height = PANEL_H + 'px';
  const s = document.createElement('span');
  s.textContent = lab;
  d.appendChild(s);
  document.body.appendChild(d);
});

// ---- legend ----
const KEY_LEFT = [586.7, 665.0, 743.3, 821.0];
const KEY_W = 34, KEY_H = 32.7, KEY_TOP = 256.7, KEYS_PER_COL = 15;
precisionLevels.forEach((lvl, i) => {
  const col = Math.floor(i / KEYS_PER_COL), row = i % KEYS_PER_COL;
  const k = document.createElement('div');
  k.className = 'key';
  k.style.left = KEY_LEFT[col] + 'px';
  k.style.top = (KEY_TOP + row * KEY_H) + 'px';
  k.style.width = KEY_W + 'px';
  k.style.height = (KEY_H + 1) + 'px';
  k.style.background = levelColors[i];
  document.body.appendChild(k);
  const t = document.createElement('div');
  t.className = 'klab';
  t.textContent = String(lvl);
  t.style.left = (KEY_LEFT[col] + KEY_W + 3) + 'px';
  t.style.top = (KEY_TOP + row * KEY_H + KEY_H / 2) + 'px';
  t.style.transform = 'translateY(-45%)';
  document.body.appendChild(t);
});

// ---- panels ----
const panelBorder = {
  id: 'panelBorder',
  afterDatasetsDraw(chart) {
    const { ctx, chartArea: a } = chart;
    ctx.save();
    ctx.strokeStyle = '#858585';
    ctx.lineWidth = 1.2;
    ctx.strokeRect(a.left, a.top, a.right - a.left, a.bottom - a.top);
    ctx.restore();
  }
};
const isMajor = v => yMajorTicks.includes(v);

function drawPanel(r, c) {
  const rows = panelData[r][c];
  const firstCol = c === 0;
  const lastRow = r === mncsValues.length - 1;
  const axisW = firstCol ? Y_AXIS_W : 0;
  const axisH = lastRow ? X_AXIS_H : 0;

  const canvas = document.createElement('canvas');
  canvas.className = 'panel';
  canvas.width = PAGE_W;
  canvas.height = PAGE_H;
  document.body.appendChild(canvas);

  const datasets = precisionLevels.map((lvl, i) => ({
    label: String(lvl),
    data: rows.map((shares, k) => ({ x: k + 1, y: shares[i] > 0 ? shares[i] / 100 : null })),
    backgroundColor: levelColors[i],
    borderWidth: 0,
    inflateAmount: 0.6,
    categoryPercentage: 1,
    barPercentage: 0.84
  }));

  new Chart(canvas, {
    type: 'bar',
    data: { datasets },
    options: {
      responsive: false,
      animation: false,
      events: [],
      layout: {
        autoPadding: false,
        padding: {
          left: PANEL_LEFT[c] - axisW,
          top: PANEL_TOP[r],
          right: PAGE_W - PANEL_LEFT[c] - PANEL_W,
          bottom: PAGE_H - PANEL_TOP[r] - PANEL_H - axisH
        }
      },
      plugins: { legend: { display: false }, tooltip: { enabled: false } },
      scales: {
        x: {
          type: 'linear',
          stacked: true,
          offset: false,
          min: 0.4,
          max: 5.6,
          afterBuildTicks: s => { s.ticks = ranks.map((_, k) => ({ value: k + 1 })); },
          afterFit: s => { s.height = axisH; },
          border: { display: false },
          grid: { offset: false, color: '#ebebeb', lineWidth: 1.1, drawTicks: lastRow, tickLength: 7, tickColor: '#333333', tickWidth: 1.4 },
          ticks: {
            display: lastRow, autoSkip: false, maxRotation: 0, minRotation: 0, padding: 3,
            color: TEXT_COLOR, font: { family: FONT, size: 19 },
            callback: v => ranks[v - 1]
          }
        },
        y: {
          stacked: true,
          min: -0.05,
          max: 1.05,
          afterBuildTicks: s => {
            s.ticks = yMajorTicks.concat(yMinorTicks).sort((a, b) => a - b).map(v => ({ value: v }));
          },
          afterFit: s => { s.width = axisW; },
          border: { display: false },
          grid: {
            color: ctx => (ctx.tick && isMajor(ctx.tick.value)) ? '#ebebeb' : '#f6f6f6',
            lineWidth: ctx => (ctx.tick && isMajor(ctx.tick.value)) ? 1.1 : 0.6,
            drawTicks: firstCol,
            tickLength: 7,
            tickColor: ctx => (ctx.tick && isMajor(ctx.tick.value)) ? '#333333' : 'rgba(0,0,0,0)',
            tickWidth: 1.4
          },
          ticks: {
            display: firstCol, padding: 7,
            color: TEXT_COLOR, font: { family: FONT, size: 19 },
            callback: v => isMajor(v) ? v.toFixed(2) : ''
          }
        }
      }
    },
    plugins: [panelBorder]
  });
}

for (let r = 0; r < mncsValues.length; r++) {
  for (let c = 0; c < cValues.length; c++) drawPanel(r, c);
}
</script>
</body>
</html>
